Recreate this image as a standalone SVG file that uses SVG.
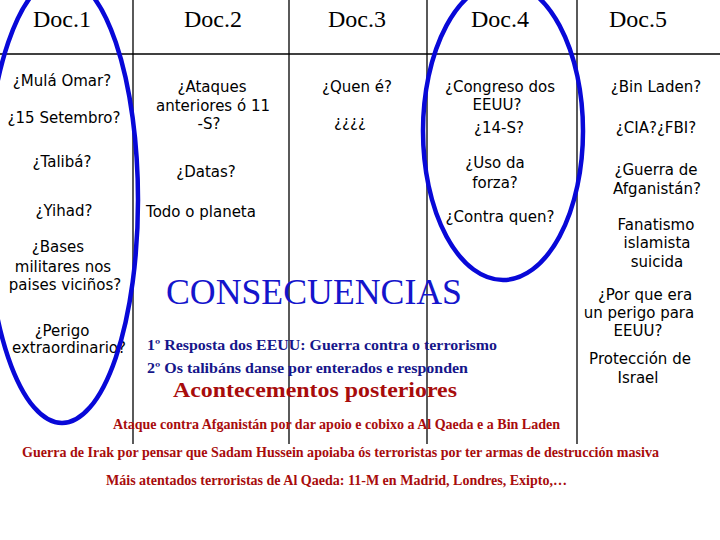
<svg xmlns="http://www.w3.org/2000/svg" width="720" height="540" viewBox="0 0 720 540">
<style>
.hd{font-family:"Liberation Serif","Times New Roman",serif;font-size:24px;fill:#000;text-anchor:middle}
.b{font-family:"DejaVu Sans","Open Sans",sans-serif;font-size:15px;fill:#000;text-anchor:middle}
.grid{stroke:#000;stroke-width:1.3;fill:none}
.ring{fill:none;stroke:#0808d8;stroke-width:4.5}
.big{font-family:"Liberation Serif","Times New Roman",serif;font-size:36px;fill:#1414cc}
.nv{font-family:"Liberation Serif","Times New Roman",serif;font-size:14px;font-weight:bold;fill:#16168a}
.rd{font-family:"Liberation Serif","Times New Roman",serif;font-weight:bold;fill:#a80c0c}
</style>
<rect width="720" height="540" fill="#fff"/>
<g id="grid" class="grid">
<line x1="0" y1="54" x2="720" y2="54"/>
<line x1="133" y1="0" x2="133" y2="444"/>
<line x1="289" y1="0" x2="289" y2="444"/>
<line x1="427" y1="0" x2="427" y2="444"/>
<line x1="577" y1="0" x2="577" y2="444"/>
</g>
<g id="headers">
<text class="hd" x="62" y="27">Doc.1</text>
<text class="hd" x="213" y="27">Doc.2</text>
<text class="hd" x="357" y="27">Doc.3</text>
<text class="hd" x="500" y="27">Doc.4</text>
<text class="hd" x="638" y="27">Doc.5</text>
</g>
<g id="doc1">
<text class="b" x="62" y="86">¿Mulá Omar?</text>
<text class="b" x="64" y="123">¿15 Setembro?</text>
<text class="b" x="62" y="167">¿Talibá?</text>
<text class="b" x="64" y="216">¿Yihad?</text>
<text class="b" x="58" y="252">¿Bases</text>
<text class="b" x="63" y="272">militares nos</text>
<text class="b" x="65" y="290">paises viciños?</text>
<text class="b" x="62" y="336">¿Perigo</text>
<text class="b" x="69" y="353">extraordinario?</text>
</g>
<g id="doc2">
<text class="b" x="212" y="92">¿Ataques</text>
<text class="b" x="213" y="111" font-size="14.5">anteriores ó 11</text>
<text class="b" x="209" y="129" font-size="14.5">-S?</text>
<text class="b" x="206" y="177">¿Datas?</text>
<text class="b" x="201" y="217">Todo o planeta</text>
</g>
<g id="doc3">
<text class="b" x="357" y="92">¿Quen é?</text>
<text class="b" x="350" y="127">¿¿¿¿</text>
</g>
<g id="doc4">
<text class="b" x="500" y="92">¿Congreso dos</text>
<text class="b" x="497" y="110">EEUU?</text>
<text class="b" x="499" y="133">¿14-S?</text>
<text class="b" x="495" y="168">¿Uso da</text>
<text class="b" x="495" y="188">forza?</text>
<text class="b" x="500" y="222">¿Contra quen?</text>
</g>
<g id="doc5">
<text class="b" x="656" y="92">¿Bin Laden?</text>
<text class="b" x="656" y="133">¿CIA?¿FBI?</text>
<text class="b" x="656" y="175">¿Guerra de</text>
<text class="b" x="657" y="194">Afganistán?</text>
<text class="b" x="656" y="230">Fanatismo</text>
<text class="b" x="657" y="248">islamista</text>
<text class="b" x="657" y="267">suicida</text>
<text class="b" x="645" y="300">¿Por que era</text>
<text class="b" x="639" y="318">un perigo para</text>
<text class="b" x="638" y="336">EEUU?</text>
<text class="b" x="640" y="364">Protección de</text>
<text class="b" x="638" y="383">Israel</text>
</g>
<g id="consecuencias">
<text class="big" x="166" y="304" textLength="296" lengthAdjust="spacingAndGlyphs">CONSECUENCIAS</text>
<text class="nv" x="147" y="350" textLength="350" lengthAdjust="spacingAndGlyphs">1º Resposta dos EEUU: Guerra contra o terrorismo</text>
<text class="nv" x="147" y="373" textLength="321" lengthAdjust="spacingAndGlyphs">2º Os talibáns danse por enterados e responden</text>
<text class="rd" x="173" y="397" font-size="20" textLength="284" lengthAdjust="spacingAndGlyphs">Acontecementos posteriores</text>
<text class="rd" x="113" y="429" font-size="14" textLength="447" lengthAdjust="spacingAndGlyphs">Ataque contra Afganistán por dar apoio e cobixo a Al Qaeda e a Bin Laden</text>
<text class="rd" x="22" y="457" font-size="14" textLength="637" lengthAdjust="spacingAndGlyphs">Guerra de Irak por pensar que Sadam Hussein apoiaba ós terroristas  por ter armas de destrucción masiva</text>
<text class="rd" x="106" y="485" font-size="14" textLength="461" lengthAdjust="spacingAndGlyphs">Máis atentados terroristas de Al Qaeda: 11-M en Madrid, Londres, Exipto,…</text>
</g>
<g id="ellipses">
<ellipse class="ring" cx="62" cy="200" rx="76" ry="223"/>
<ellipse class="ring" cx="503" cy="131" rx="80" ry="149"/>
</g>
</svg>
